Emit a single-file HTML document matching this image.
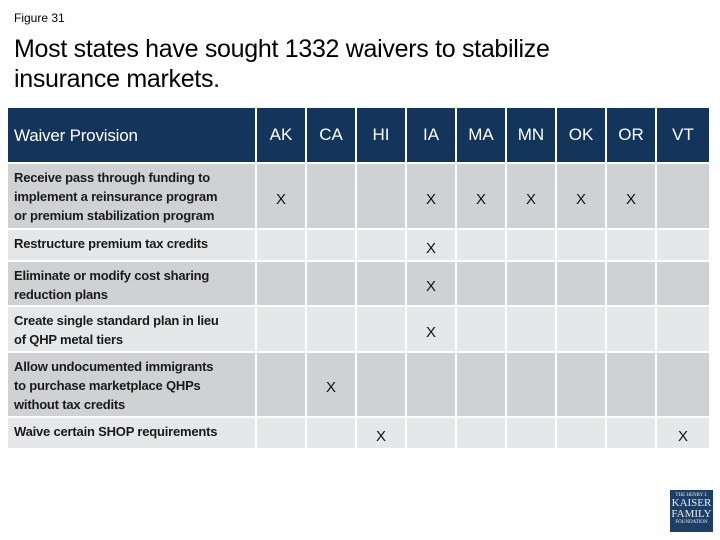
<!DOCTYPE html>
<html><head><meta charset="utf-8"><style>
body{margin:0;width:720px;height:540px;background:#fff;font-family:"Liberation Sans",sans-serif;position:relative;overflow:hidden}
.a{position:absolute}
.fig{left:14px;top:11px;font-size:12px;color:#000}
.title{left:14px;top:34px;font-size:25px;line-height:30px;color:#000;letter-spacing:-0.3px}
.c{position:absolute;box-sizing:border-box;border-right:2px solid #fff;border-bottom:2px solid #fff;display:flex;align-items:center;justify-content:center;font-size:15px;color:#111}
.h{background:#13355b;color:#fff;font-size:17px}
.p{justify-content:flex-start;padding-left:6px;font-size:13px;line-height:19px;font-weight:bold;color:#1a1a1a;letter-spacing:-0.2px;white-space:nowrap}
.d{background:#d0d1d3}.l{background:#e6e7e8}
.logo{left:670px;top:490px;width:43px;height:42px;background:#1d3f66;color:#e8ecf2;font-family:"Liberation Serif",serif;text-align:center;line-height:1}
</style></head><body>
<div class="a fig">Figure 31</div>
<div class="a title">Most states have sought 1332 waivers to stabilize<br>insurance markets.</div>
<div id="t"></div>
<div class="a logo"><div style="font-size:5px;margin-top:3px">THE HENRY J.</div><div style="font-size:11px">KAISER</div><div style="font-size:11px">FAMILY</div><div style="font-size:5px">FOUNDATION</div></div>
<script>
const states=["AK","CA","HI","IA","MA","MN","OK","OR","VT"];
const provisions=["Receive pass through funding to\nimplement a reinsurance program\nor premium stabilization program","Restructure premium tax credits","Eliminate or modify cost sharing\nreduction plans","Create single standard plan in lieu\nof QHP metal tiers","Allow undocumented immigrants\nto purchase marketplace QHPs\nwithout tax credits","Waive certain SHOP requirements"];
const marks=[["AK","IA","MA","MN","OK","OR"],["IA"],["IA"],["IA"],["CA"],["HI","VT"]];
const rowTops=[164,230,262,307,353,418,450];
const colX=[8,257,307,357,407,457,507,557,607,657,711];
const t=document.getElementById('t');
function cell(x,y,w,h,cls,txt,name){const e=document.createElement('div');e.className='c '+cls;e.style.left=x+'px';e.style.top=y+'px';e.style.width=w+'px';e.style.height=h+'px';
const s=document.createElement('span');s.style.whiteSpace='pre';s.textContent=txt;e.appendChild(s);


t.appendChild(e);return e;}
const hp=cell(colX[0],108,colX[1]-colX[0],rowTops[0]-108,'h p','Waiver Provision','header-waiver-provision');
hp.style.fontSize='17px';hp.style.fontWeight='normal';hp.style.color='#fff';
states.forEach((s,i)=>cell(colX[i+1],108,colX[i+2]-colX[i+1],rowTops[0]-108,'h',s,'header-'+s.toLowerCase()));
provisions.forEach((p,r)=>{const bg=r%2?'l':'d';const y=rowTops[r],h=rowTops[r+1]-y;
const pc=cell(colX[0],y,colX[1]-colX[0],h,'p '+bg,p,'provision-row-'+(r+1));
pc.style.alignItems='flex-start';pc.style.paddingTop='4px';
states.forEach((s,i)=>{const c=cell(colX[i+1],y,colX[i+2]-colX[i+1],h,bg,marks[r].includes(s)?'X':'','cell-'+(r+1)+'-'+s.toLowerCase());c.style.paddingTop='6px';});});
</script>
</body></html>
